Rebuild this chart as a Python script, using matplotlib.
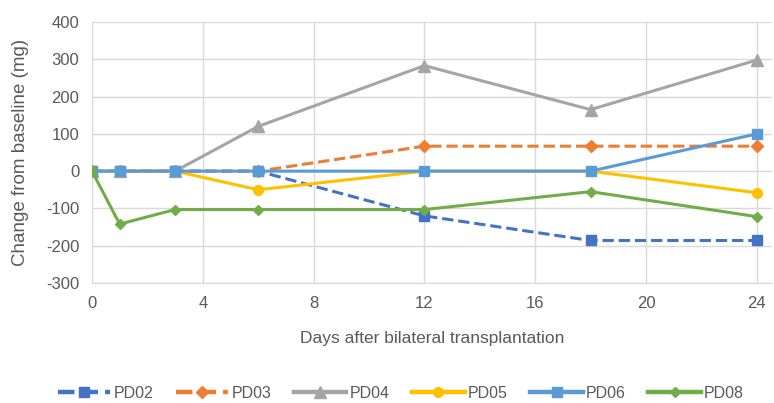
import matplotlib
matplotlib.use("Agg")
from matplotlib import pyplot as plt

days = [0, 1, 3, 6, 12, 18, 24]
pd02 = [0, 0, 0, 0, -120, -186, -186]
pd03 = [0, 0, 0, 0, 67, 67, 67]
pd04 = [0, 0, 0, 120, 283, 165, 298]
pd05 = [0, 0, 0, -50, 0, 0, -58]
pd06 = [0, 0, 0, 0, 0, 0, 100]
pd08 = [0, -142, -103, -103, -103, -55, -122]

plt.rcParams['font.family'] = ['Liberation Sans', 'DejaVu Sans']
plt.rcParams['axes.unicode_minus'] = False
txt = '#595959'

fig = plt.figure(figsize=(7.74, 4.03), dpi=100)
ax = fig.add_axes([92/774, 1 - 283/403, (772 - 92)/774, (283 - 22)/403])

ax.plot(days, pd02, '--', color='#4472C4', lw=2.2, marker='s', ms=7, label='PD02', zorder=3)
ax.plot(days, pd03, '--', color='#ED7D31', lw=2.2, marker='D', ms=6, label='PD03', zorder=3)
ax.plot(days, pd04, '-', color='#A5A5A5', lw=2.2, marker='^', ms=8, label='PD04', zorder=3)
ax.plot(days, pd05, '-', color='#FFC000', lw=2.2, marker='o', ms=7, label='PD05', zorder=3)
ax.plot(days, pd06, '-', color='#5B9BD5', lw=2.2, marker='s', ms=7, label='PD06', zorder=3)
ax.plot(days, pd08, '-', color='#70AD47', lw=2.2, marker='D', ms=5, label='PD08', zorder=3)

ax.set_xlim(0, 24.55)
ax.set_ylim(-300, 400)
ax.set_xticks(range(0, 25, 4))
ax.set_yticks(range(-300, 401, 100))
ax.grid(True, color='#D9D9D9', lw=1)
ax.set_axisbelow(True)
for s in ['top', 'right', 'left']:
    ax.spines[s].set_visible(False)
ax.spines['bottom'].set_color('#D9D9D9')
ax.tick_params(length=0, labelsize=12, colors=txt, pad=9)

ax.set_xlabel('Days after bilateral transplantation', fontsize=12.5, color=txt, labelpad=15)
ax.set_ylabel('Change from baseline (mg)', fontsize=13.5, color=txt, labelpad=12)

leg = fig.legend(loc='center', bbox_to_anchor=(0.518, 1 - 393/403), ncol=6, frameon=False,
                 fontsize=11.5, labelcolor=txt, handlelength=3.3, columnspacing=1.4,
                 handletextpad=0.2)
for ln in leg.get_lines():
    ln.set_linewidth(3.2)

plt.savefig('out.png', dpi=100)
